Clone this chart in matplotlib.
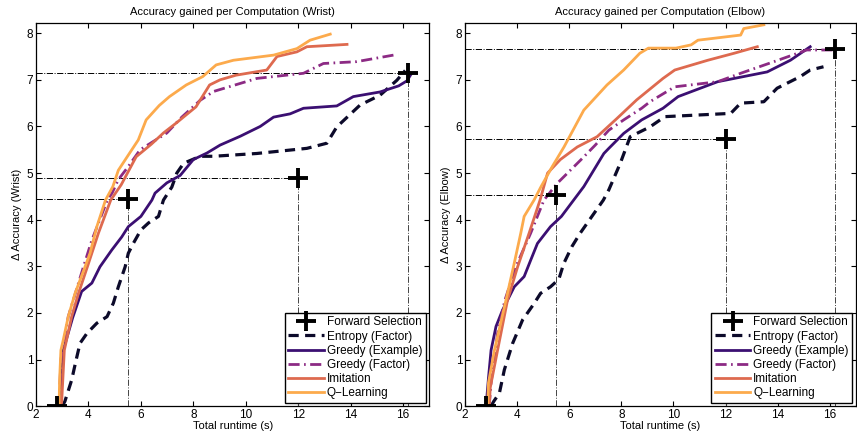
import matplotlib
matplotlib.use('Agg')
import matplotlib.pyplot as plt

plt.rcParams['font.family'] = ['Liberation Sans', 'DejaVu Sans']

# ---- Wrist data ----
wr_fs_x = [2.8, 5.5, 12.0, 16.2]
wr_fs_y = [0.0, 4.45, 4.9, 7.15]

wr_ent_x = [3.0, 3.1, 3.36, 3.53, 3.68, 3.94, 4.32, 4.71, 4.95, 5.14, 5.4, 5.52, 5.71, 6.0, 6.29,
            6.67, 6.86, 7.18, 7.37, 7.63, 8.26, 8.77, 10.42, 12.33, 13.09, 13.47, 14.36, 15.12,
            15.76, 16.08]
wr_ent_y = [0.0, 0.1, 0.56, 0.99, 1.35, 1.56, 1.78, 1.92, 2.21, 2.56, 2.99, 3.28, 3.49, 3.78, 3.93,
            4.07, 4.42, 4.7, 5.0, 5.21, 5.36, 5.36, 5.42, 5.53, 5.64, 5.99, 6.46, 6.67,
            6.99, 7.2]

wr_gex_x = [2.9, 2.95, 3.04, 3.4, 3.74, 4.13, 4.44, 4.89, 5.27, 5.52, 6.0, 6.42, 6.54, 6.99, 7.5,
            8.0, 8.52, 9.02, 9.79, 10.55, 11.06, 11.69, 12.2, 13.47, 14.1, 15.12, 15.83, 16.15, 16.3]
wr_gex_y = [0.0, 0.6, 1.2, 1.9, 2.46, 2.64, 2.99, 3.35, 3.63, 3.85, 4.07, 4.42, 4.57, 4.79, 4.95,
            5.29, 5.43, 5.6, 5.79, 6.0, 6.2, 6.27, 6.39, 6.44, 6.64, 6.74, 6.87, 6.98, 7.12]

wr_gfa_x = [2.88, 2.95, 3.23, 3.81, 4.13, 4.72, 4.9, 5.14, 5.52, 5.97, 6.99, 7.56, 8.26, 8.77,
            10.42, 12.2, 12.96, 14.23, 15.63]
wr_gfa_y = [0.0, 1.0, 1.92, 2.99, 3.56, 4.42, 4.57, 4.86, 5.14, 5.5, 5.86, 6.2, 6.56, 6.75,
            7.03, 7.14, 7.35, 7.39, 7.53]

wr_imi_x = [2.95, 2.98, 3.08, 3.36, 3.62, 3.96, 4.38, 4.85, 5.25, 5.82, 6.4, 6.86, 7.34, 8.1,
            8.62, 9.02, 9.63, 10.8, 11.19, 11.95, 12.33, 13.86]
wr_imi_y = [0.0, 0.1, 1.2, 1.92, 2.42, 2.99, 3.71, 4.42, 4.75, 5.35, 5.62, 5.86, 6.07, 6.42,
            6.89, 7.0, 7.1, 7.21, 7.5, 7.6, 7.71, 7.76]

wr_ql_x = [2.88, 2.9, 2.95, 3.04, 3.23, 3.49, 3.87, 4.06, 4.32, 4.65, 4.93, 5.14, 5.56, 5.9, 6.2,
           6.7, 7.09, 7.73, 8.36, 8.87, 9.53, 11.06, 11.95, 12.45, 13.22]
wr_ql_y = [0.0, 0.56, 1.2, 1.42, 1.92, 2.42, 2.99, 3.28, 3.85, 4.42, 4.71, 5.06, 5.42, 5.71, 6.14,
           6.45, 6.64, 6.89, 7.07, 7.32, 7.42, 7.53, 7.67, 7.85, 7.98]

# ---- Elbow data ----
el_fs_x = [2.8, 5.5, 12.0, 16.2]
el_fs_y = [0.0, 4.52, 5.72, 7.67]

el_ent_x = [3.0, 3.1, 3.32, 3.51, 3.83, 4.21, 4.65, 4.9, 5.28, 5.6, 5.79, 6.1, 6.42, 6.87, 7.31,
            7.52, 7.96, 8.34, 9.1, 9.67, 12.2, 12.58, 13.47, 13.98, 14.87, 15.25, 15.76]
el_ent_y = [0.0, 0.1, 0.28, 0.78, 1.35, 1.85, 2.2, 2.42, 2.56, 2.72, 3.06, 3.42, 3.71, 4.07, 4.42,
            4.64, 5.21, 5.78, 5.99, 6.21, 6.28, 6.5, 6.53, 6.82, 7.07, 7.21, 7.28]

el_gex_x = [2.81, 2.9, 3.0, 3.19, 3.44, 3.89, 4.27, 4.52, 4.78, 5.28, 5.7, 6.17, 6.56, 7.33, 7.52,
            8.09, 8.78, 9.6, 10.18, 11.7, 13.6, 14.49, 15.25]
el_gex_y = [0.0, 0.6, 1.2, 1.71, 2.06, 2.56, 2.78, 3.13, 3.49, 3.85, 4.07, 4.42, 4.71, 5.42, 5.53,
            5.85, 6.14, 6.39, 6.64, 6.96, 7.17, 7.42, 7.71]

el_gfa_x = [2.93, 3.0, 3.25, 3.53, 3.95, 4.52, 5.03, 5.54, 6.44, 7.0, 7.52, 8.09, 8.78, 9.1, 10.05,
            11.7, 12.58, 13.86, 15.12, 16.19]
el_gfa_y = [0.0, 0.5, 1.56, 2.27, 2.99, 3.71, 4.42, 4.78, 5.28, 5.6, 5.92, 6.14, 6.39, 6.53, 6.85,
            6.96, 7.14, 7.39, 7.64, 7.64]

el_imi_x = [2.93, 2.97, 3.25, 3.63, 4.02, 4.46, 4.88, 5.17, 5.66, 6.31, 7.07, 7.83, 8.59, 9.6,
            10.05, 11.32, 12.33, 13.22]
el_imi_y = [0.0, 0.4, 1.2, 2.27, 2.99, 3.71, 4.42, 5.0, 5.29, 5.56, 5.78, 6.17, 6.57, 7.03,
            7.21, 7.42, 7.57, 7.71]

el_ql_x = [2.87, 2.9, 3.13, 3.57, 3.86, 4.14, 4.27, 4.65, 4.92, 5.35, 5.8, 6.56, 7.45, 8.09, 8.71,
           9.04, 10.1, 10.68, 10.94, 12.58, 12.7, 13.47]
el_ql_y = [0.0, 0.5, 1.2, 2.27, 2.99, 3.71, 4.07, 4.42, 4.71, 5.14, 5.56, 6.35, 6.89, 7.21, 7.57,
           7.68, 7.68, 7.75, 7.85, 7.96, 8.1, 8.18]

labels = ['Forward Selection', 'Entropy (Factor)', 'Greedy (Example)', 'Greedy (Factor)',
          'Imitation', 'Q\u2212Learning']

c_ent = '#0c0a2a'
c_gex = '#3b0f72'
c_gfa = '#8c2a84'
c_imi = '#de6a4f'
c_ql = '#fcaa4c'

panels = [
    ('Wrist', wr_fs_x, wr_fs_y, wr_ent_x, wr_ent_y, wr_gex_x, wr_gex_y,
     wr_gfa_x, wr_gfa_y, wr_imi_x, wr_imi_y, wr_ql_x, wr_ql_y),
    ('Elbow', el_fs_x, el_fs_y, el_ent_x, el_ent_y, el_gex_x, el_gex_y,
     el_gfa_x, el_gfa_y, el_imi_x, el_imi_y, el_ql_x, el_ql_y),
]

fig = plt.figure(figsize=(8.57, 4.33), dpi=100)
ax_pos = [[0.042, 0.062, 0.459, 0.885], [0.5426, 0.062, 0.456, 0.885]]

for pos, p in zip(ax_pos, panels):
    name, fx, fy, ex, ey, gx, gy, gfx, gfy, ix, iy, qx, qy = p
    ax = fig.add_axes(pos)

    # guide lines for forward selection points
    for x, y in zip(fx[1:], fy[1:]):
        ax.plot([2, x], [y, y], color='k', lw=0.7, ls='-.')
        ax.plot([x, x], [0, y], color='#444444', lw=0.7, ls='-.')

    h_fs, = ax.plot(fx, fy, ls='none', marker='+', ms=14, mew=2.8, color='k', zorder=5)
    h_ent, = ax.plot(ex, ey, color=c_ent, lw=2.3, dashes=(3.2, 2.0))
    h_gex, = ax.plot(gx, gy, color=c_gex, lw=2.0)
    h_gfa, = ax.plot(gfx, gfy, color=c_gfa, lw=2.0, dashes=(4, 1.6, 0.6, 1.6))
    h_imi, = ax.plot(ix, iy, color=c_imi, lw=2.0)
    h_ql, = ax.plot(qx, qy, color=c_ql, lw=2.0)

    ax.set_xlim(2, 17)
    ax.set_ylim(0, 8.22)
    ax.set_xticks(range(2, 17, 2))
    ax.set_yticks(range(0, 9))
    ax.tick_params(direction='in', top=True, right=True, labelsize=8.5, length=3.5, pad=2)
    for s in ax.spines.values():
        s.set_linewidth(0.9)
    ax.set_title('Accuracy gained per Computation (%s)' % name, fontsize=8, pad=6)
    ax.set_xlabel('Total runtime (s)', fontsize=8, labelpad=0)
    ax.set_ylabel('\u0394 Accuracy (%s)' % name, fontsize=8, labelpad=3)

    leg = ax.legend([h_fs, h_ent, h_gex, h_gfa, h_imi, h_ql], labels, loc='lower right',
                    fontsize=8.5, handlelength=3.0, labelspacing=0.18, borderpad=0.3,
                    handletextpad=0.25, borderaxespad=0.3, fancybox=False, framealpha=1)
    leg.get_frame().set_edgecolor('k')
    leg.get_frame().set_linewidth(1.0)

fig.savefig('out.png', dpi=100)
